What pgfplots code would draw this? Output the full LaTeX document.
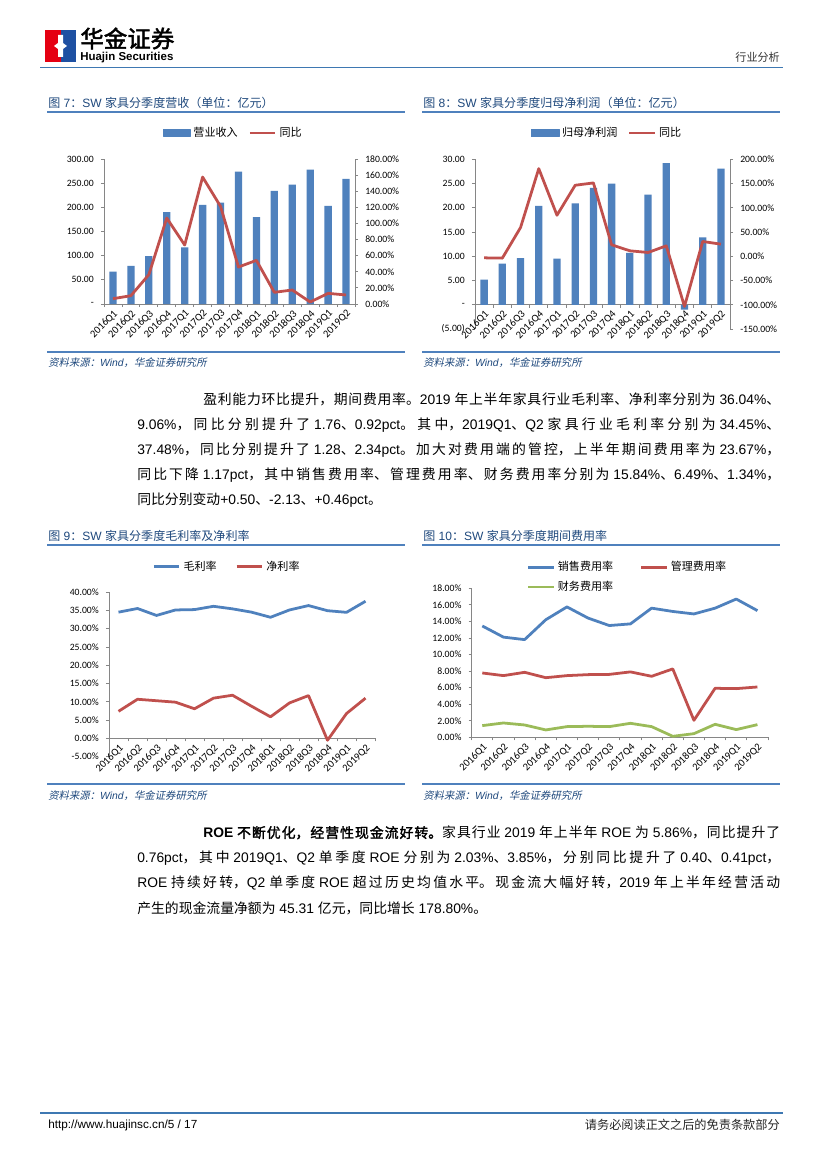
\documentclass[border=0pt]{standalone}
\usepackage{fontspec}
\usepackage{pgfplots}
\pgfplotsset{compat=1.18}
\setmainfont{Liberation Sans}
\newfontfamily\cjk{Noto Sans CJK SC}[AutoFakeSlant=0.2,AutoFakeBold=2]
\newfontfamily\carlito{Carlito}
\newcommand\latsw{\rmfamily}

\definecolor{barblue}{HTML}{4F81BD}
\definecolor{linered}{HTML}{C0504D}
\definecolor{linegreen}{HTML}{9BBB59}
\definecolor{titleblue}{HTML}{1F497D}
\definecolor{rulec}{HTML}{4F81BD}
\definecolor{headrule}{HTML}{3E78B2}
\definecolor{axisgray}{HTML}{868686}
\definecolor{logored}{HTML}{E50012}
\definecolor{logoblue}{HTML}{1E50A2}

\newdimen\UU \UU=0.254mm
\newcount\cc
\ifdefined\newXeTeXintercharclass \newXeTeXintercharclass\CJKcls \else \chardef\CJKcls=9 \fi
\cc="2E80
\loop \XeTeXcharclass\cc=\CJKcls \advance\cc by 1 \ifnum\cc<"A000 \repeat
\cc="FF00
\loop \XeTeXcharclass\cc=\CJKcls \advance\cc by 1 \ifnum\cc<"FFF0 \repeat
\XeTeXinterchartoks 0 \CJKcls = {\cjk}
\XeTeXinterchartoks 4095 \CJKcls = {\cjk}
\XeTeXinterchartoks \CJKcls 0 = {\latsw}
\XeTeXinterchartoks \CJKcls 4095 = {\latsw}

\newcommand\tickf{\carlito\fontsize{7}{8.4}\selectfont}
\newcommand\xtickf{\carlito\fontsize{7.6}{9}\selectfont}
\newcommand\legf{\fontsize{8}{9.6}\selectfont}
\newcommand\titlef{\fontsize{8.7}{10}\selectfont}
\newcommand\srcf{\fontsize{7.5}{9}\selectfont\itshape}
\newcommand\bodyf{\fontsize{10}{12}\selectfont}

\newcommand\jline[4]{\node[anchor=west,inner sep=0pt] at (#1,#2) {\parbox{#3\UU}{\bodyf\parindent=0pt\parfillskip=0pt\relax\XeTeXlinebreaklocale "zh"\XeTeXlinebreakskip=0pt plus 1fil\relax #4}};}

\pgfplotsset{
  cat/.style={
    scale only axis,
    xmin=-0.5, xmax=13.5,
    xtick={-0.5,0.5,...,13.5}, xticklabels={},
    extra x ticks={0,...,13},
    extra x tick labels={2016Q1,2016Q2,2016Q3,2016Q4,2017Q1,2017Q2,2017Q3,2017Q4,2018Q1,2018Q2,2018Q3,2018Q4,2019Q1,2019Q2},
    extra x tick style={tick style={draw=none}, tick label style={rotate=45, anchor=north east, font=\xtickf, inner sep=1pt}},
    tick align=outside,
    major tick length=2.2pt,
    axis line style={draw=axisgray, line width=0.6pt},
    every tick/.style={draw=axisgray, line width=0.6pt},
    yticklabel style={font=\tickf, inner sep=1.5pt, xshift=-3.5pt},
    every axis plot/.append style={line join=round},
  },
  ry/.style={
    scale only axis,
    xmin=-0.5, xmax=13.5,
    hide x axis,
    axis y line*=right,
    tick align=outside,
    major tick length=2.2pt,
    axis line style={draw=axisgray, line width=0.6pt},
    every tick/.style={draw=axisgray, line width=0.6pt},
    yticklabel style={font=\tickf, inner sep=1.5pt, xshift=3.5pt},
    every axis plot/.append style={line join=round},
  },
  leg/.style={
    legend style={draw=none, fill=none, font=\legf, inner sep=0pt, row sep=2pt,
      /tikz/every even column/.append style={column sep=2mm}},
    legend cell align=left,
  },
  lline/.style={legend image code/.code={\draw (0mm,0mm) -- (6.5mm,0mm);}},
}

\begin{document}
\XeTeXinterchartokenstate=1
\begin{tikzpicture}[x=0.254mm,y=-0.254mm]
\fill[white] (0,0) rectangle (827,1169);
% ---------------- header
\fill[logored] (45,30) rectangle (60.5,62);
\fill[logoblue] (60.5,30) rectangle (76,62);
\fill[white] (58,35) -- (63,35) -- (63,43) -- (67,46) -- (63,49) -- (63,57) -- (58,57) -- (58,49) -- (54,46) -- (58,43) -- cycle;
\node[anchor=west,inner sep=0pt] at (80,38.5) {\fontsize{17}{17}\selectfont\bfseries 华金证券};
\node[anchor=west,inner sep=0pt] at (80,57.5) {\fontsize{8.3}{9}\selectfont\bfseries Huajin Securities};
\node[anchor=east,inner sep=0pt,text=black!80] at (780,57) {\fontsize{8}{9}\selectfont 行业分析};
\draw[headrule, line width=1.2pt] (40,67.5) -- (783,67.5);

% ---------------- chart titles and rules, row 1
\node[anchor=west,inner sep=0pt,text=titleblue] at (48,103) {\titlef 图 7：SW 家具分季度营收（单位：亿元）};
\node[anchor=west,inner sep=0pt,text=titleblue] at (423,103) {\titlef 图 8：SW 家具分季度归母净利润（单位：亿元）};
\draw[rulec, line width=0.8pt] (47,112) -- (405,112);
\draw[rulec, line width=0.8pt] (422,112) -- (780,112);
\draw[rulec, line width=0.8pt] (47,352) -- (405,352);
\draw[rulec, line width=0.8pt] (422,352) -- (780,352);
\node[anchor=west,inner sep=0pt,text=titleblue] at (48,363) {\srcf 资料来源：Wind，华金证券研究所};
\node[anchor=west,inner sep=0pt,text=titleblue] at (423,363) {\srcf 资料来源：Wind，华金证券研究所};

% ---------------- chart 7
\begin{axis}[cat, at={(26.416mm,-77.216mm)}, anchor=south west, width=63.754mm, height=36.83mm,
  ymin=0, ymax=300, axis y line*=left, axis x line*=bottom,
  ytick={0,50,...,300}, yticklabels={-,50.00,100.00,150.00,200.00,250.00,300.00}]
\addplot[ybar, bar width=1.85mm, fill=barblue, draw=none] coordinates {
(0,67) (1,79) (2,99) (3,190) (4,117) (5,205) (6,210) (7,274) (8,180) (9,234) (10,247) (11,278) (12,203) (13,259)};
\end{axis}
\begin{axis}[ry, leg, at={(26.416mm,-77.216mm)}, anchor=south west, width=63.754mm, height=36.83mm,
  ymin=0, ymax=180, ytick={0,20,...,180},
  yticklabels={0.00\%,20.00\%,40.00\%,60.00\%,80.00\%,100.00\%,120.00\%,140.00\%,160.00\%,180.00\%},
  legend columns=2, legend style={at={(0.516,1.18)}, anchor=center}]
\addlegendimage{legend image code/.code={\fill[barblue] (0mm,-0.9mm) rectangle (7mm,0.9mm);}}
\addlegendentry{营业收入}
\addplot[lline, linered, line width=2pt] coordinates {
(0,6.6) (1,10.3) (2,36.4) (3,106.7) (4,73.2) (5,157.6) (6,121.2) (7,45.9) (8,54.2) (9,14.5) (10,17.4) (11,2.5) (12,13.2) (13,11.2)};
\addlegendentry{同比}
\end{axis}

% ---------------- chart 8
\begin{axis}[cat, at={(120.65mm,-83.566mm)}, anchor=south west, width=64.77mm, height=43.10mm,
  ymin=-5, ymax=30, axis y line*=left, axis x line*=middle,
  ytick={-5,0,...,30}, yticklabels={(5.00),-,5.00,10.00,15.00,20.00,25.00,30.00}]
\addplot[ybar, bar width=1.85mm, fill=barblue, draw=none] coordinates {
(0,5.2) (1,8.5) (2,9.6) (3,20.4) (4,9.5) (5,20.9) (6,24.1) (7,25.0) (8,10.7) (9,22.7) (10,29.2) (11,-1.0) (12,13.9) (13,28.1)};
\end{axis}
\begin{axis}[ry, leg, at={(120.65mm,-83.566mm)}, anchor=south west, width=64.77mm, height=43.10mm,
  ymin=-150, ymax=200, ytick={-150,-100,...,200},
  yticklabels={-150.00\%,-100.00\%,-50.00\%,0.00\%,50.00\%,100.00\%,150.00\%,200.00\%},
  legend columns=2, legend style={at={(0.52,1.155)}, anchor=center}]
\addlegendimage{legend image code/.code={\fill[barblue] (0mm,-0.9mm) rectangle (7mm,0.9mm);}}
\addlegendentry{归母净利润}
\addplot[lline, linered, line width=2pt] coordinates {
(0,-3.2) (1,-3.8) (2,59.3) (3,180.8) (4,84.7) (5,146.5) (6,151.3) (7,23.6) (8,11.3) (9,7.8) (10,21.6) (11,-103.4) (12,30.5) (13,25.0)};
\addlegendentry{同比}
\end{axis}

% ---------------- paragraph 1
\jline{203}{399}{577}{盈利能力环比提升，期间费用率。2019 年上半年家具行业毛利率、净利率分别为 36.04\%、}
\jline{137}{425}{643}{9.06\%，同比分别提升了 1.76、0.92pct。其中，2019Q1、Q2 家具行业毛利率分别为 34.45\%、}
\jline{137}{450}{643}{37.48\%，同比分别提升了 1.28、2.34pct。加大对费用端的管控，上半年期间费用率为 23.67\%，}
\jline{137}{475}{643}{同比下降 1.17pct，其中销售费用率、管理费用率、财务费用率分别为 15.84\%、6.49\%、1.34\%，}
\node[anchor=west,inner sep=0pt] at (137,500) {\bodyf 同比分别变动+0.50、-2.13、+0.46pct。};

% ---------------- row 2 titles and rules
\node[anchor=west,inner sep=0pt,text=titleblue] at (48,536) {\titlef 图 9：SW 家具分季度毛利率及净利率};
\node[anchor=west,inner sep=0pt,text=titleblue] at (423,536) {\titlef 图 10：SW 家具分季度期间费用率};
\draw[rulec, line width=0.8pt] (47,545) -- (405,545);
\draw[rulec, line width=0.8pt] (422,545) -- (780,545);
\draw[rulec, line width=0.8pt] (47,784) -- (405,784);
\draw[rulec, line width=0.8pt] (422,784) -- (780,784);
\node[anchor=west,inner sep=0pt,text=titleblue] at (48,796) {\srcf 资料来源：Wind，华金证券研究所};
\node[anchor=west,inner sep=0pt,text=titleblue] at (423,796) {\srcf 资料来源：Wind，华金证券研究所};

% ---------------- chart 9
\begin{axis}[cat, leg, at={(27.686mm,-192.20mm)}, anchor=south west, width=67.564mm, height=41.83mm,
  ymin=-5, ymax=40, axis y line*=left, axis x line*=middle,
  ytick={-5,0,...,40}, yticklabels={-5.00\%,0.00\%,5.00\%,10.00\%,15.00\%,20.00\%,25.00\%,30.00\%,35.00\%,40.00\%},
  legend columns=2, legend style={at={(0.445,1.154)}, anchor=center, /tikz/every even column/.append style={column sep=4mm}}]
\addplot[lline, barblue, line width=2pt] coordinates {
(0,34.5) (1,35.5) (2,33.6) (3,35.1) (4,35.2) (5,36.1) (6,35.4) (7,34.5) (8,33.1) (9,35.1) (10,36.3) (11,34.9) (12,34.45) (13,37.48)};
\addlegendentry{毛利率}
\addplot[lline, linered, line width=2pt] coordinates {
(0,7.4) (1,10.7) (2,10.3) (3,9.9) (4,8.1) (5,11.0) (6,11.8) (7,8.8) (8,5.9) (9,9.7) (10,11.7) (11,-0.5) (12,6.8) (13,11.0)};
\addlegendentry{净利率}
\end{axis}

% ---------------- chart 10
\begin{axis}[cat, leg, at={(119.81mm,-187.27mm)}, anchor=south west, width=75.26mm, height=37.85mm,
  ymin=0, ymax=18, axis y line*=left, axis x line*=bottom,
  ytick={0,2,...,18}, yticklabels={0.00\%,2.00\%,4.00\%,6.00\%,8.00\%,10.00\%,12.00\%,14.00\%,16.00\%,18.00\%},
  legend columns=2, legend style={at={(0.185,1.20)}, anchor=north west, /tikz/every even column/.append style={column sep=6mm}}]
\addplot[lline, barblue, line width=2pt] coordinates {
(0,13.45) (1,12.1) (2,11.8) (3,14.2) (4,15.75) (5,14.4) (6,13.5) (7,13.7) (8,15.6) (9,15.2) (10,14.9) (11,15.6) (12,16.7) (13,15.3)};
\addlegendentry{销售费用率}
\addplot[lline, linered, line width=2pt] coordinates {
(0,7.77) (1,7.45) (2,7.85) (3,7.2) (4,7.45) (5,7.57) (6,7.6) (7,7.9) (8,7.37) (9,8.26) (10,2.05) (11,5.92) (12,5.88) (13,6.08)};
\addlegendentry{管理费用率}
\addplot[lline, linegreen, line width=2pt] coordinates {
(0,1.41) (1,1.73) (2,1.49) (3,0.89) (4,1.29) (5,1.33) (6,1.29) (7,1.69) (8,1.29) (9,0.12) (10,0.44) (11,1.57) (12,0.93) (13,1.53)};
\addlegendentry{财务费用率}
\end{axis}

% ---------------- paragraph 2
\jline{203}{832.7}{577}{{\bfseries ROE 不断优化，经营性现金流好转。}家具行业 2019 年上半年 ROE 为 5.86\%，同比提升了}
\jline{137}{857.7}{643}{0.76pct，其中 2019Q1、Q2 单季度 ROE 分别为 2.03\%、3.85\%，分别同比提升了 0.40、0.41pct，}
\jline{137}{883.3}{643}{ROE 持续好转，Q2 单季度 ROE 超过历史均值水平。现金流大幅好转，2019 年上半年经营活动}
\node[anchor=west,inner sep=0pt] at (137,908.3) {\bodyf 产生的现金流量净额为 45.31 亿元，同比增长 178.80\%。};

% ---------------- footer
\draw[headrule, line width=1pt] (40,1113) -- (783,1113);
\node[anchor=west,inner sep=0pt] at (48,1125) {\fontsize{8.5}{10}\selectfont http://www.huajinsc.cn/5 / 17};
\node[anchor=east,inner sep=0pt,text=black!85] at (780,1125) {\fontsize{8.8}{10}\selectfont 请务必阅读正文之后的免责条款部分};
\end{tikzpicture}
\end{document}
